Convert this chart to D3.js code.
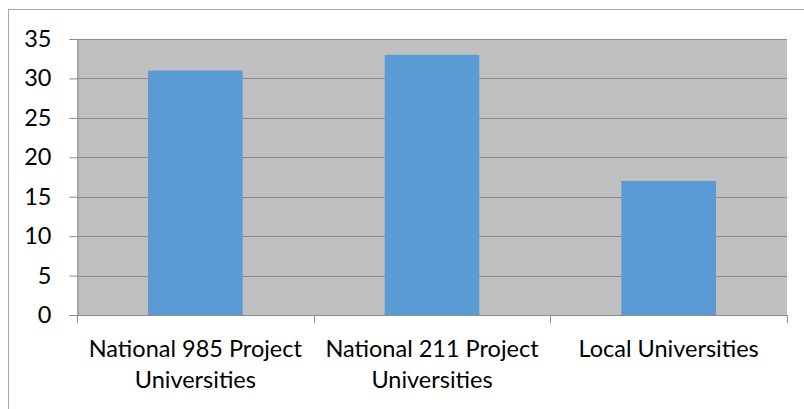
<!DOCTYPE html>
<html><head><meta charset="utf-8">
<script src="https://cdn.jsdelivr.net/npm/d3@7/dist/d3.min.js"></script>
<style>body{margin:0;background:#fff}svg{display:block}</style>
</head><body>
<svg id="c" width="804" height="409"></svg>
<script>
const categories = [["National 985 Project","Universities"],["National 211 Project","Universities"],["Local Universities"]];
const values = [31, 33, 17];
const yTicks = [0,5,10,15,20,25,30,35];

const svg = d3.select("#c");
const font = "Lato, 'Open Sans', sans-serif";
const L = 77, R = 787, T = 39, B = 315;

svg.append("rect").attr("x",8.5).attr("y",9.5).attr("width",820).attr("height",420)
  .attr("fill","#fff").attr("stroke","#a6a6a6").attr("stroke-width",1);

const x = d3.scaleBand().domain(d3.range(values.length)).range([L,R]).paddingInner(0.6).paddingOuter(0.3);
const xb = d3.scaleBand().domain(d3.range(values.length)).range([L,R]);
const y = d3.scaleLinear().domain([0,35]).range([B,T]);

svg.append("rect").attr("x",L).attr("y",T).attr("width",R-L).attr("height",B-T).attr("fill","#c0c0c0");

// gridlines
svg.append("g").selectAll("line").data(yTicks.filter(d=>d>0)).join("line")
  .attr("x1",L).attr("x2",R).attr("y1",d=>Math.round(y(d))+0.5).attr("y2",d=>Math.round(y(d))+0.5)
  .attr("stroke","#8c8c8c").attr("stroke-width",1);

// bars
svg.append("g").selectAll("rect").data(values).join("rect")
  .attr("x",(d,i)=>x(i)).attr("width",x.bandwidth())
  .attr("y",d=>y(d)).attr("height",d=>B-y(d)).attr("fill","#5b9bd5");

// y axis
const yAxis = d3.axisLeft(y).tickValues(yTicks).tickSize(8).tickPadding(18);
const gy = svg.append("g").attr("transform",`translate(${L+0.5},0)`).call(yAxis);
gy.select(".domain").attr("stroke","#8c8c8c");
gy.selectAll(".tick line").attr("stroke","#8c8c8c");
gy.selectAll("text").attr("font-family",font).attr("font-size",23.5).attr("fill","#000");

// x axis
const boundaries = d3.range(values.length+1).map(i => i<values.length ? xb(i) : R);
const gx = svg.append("g");
gx.append("line").attr("x1",L).attr("x2",R).attr("y1",B+0.5).attr("y2",B+0.5).attr("stroke","#8c8c8c");
gx.selectAll("line.t").data(boundaries).join("line").attr("class","t")
  .attr("x1",d=>Math.round(d)+0.5).attr("x2",d=>Math.round(d)+0.5).attr("y1",B).attr("y2",B+8).attr("stroke","#8c8c8c");
const lbl = gx.selectAll("text").data(categories).join("text")
  .attr("text-anchor","middle").attr("font-family",font).attr("font-size",23.5).attr("fill","#000")
  .attr("transform",(d,i)=>`translate(${xb(i)+xb.bandwidth()/2},0)`);
lbl.selectAll("tspan").data(d=>d).join("tspan")
  .attr("x",0).attr("y",(d,j)=>357+j*31).text(d=>d);
</script>
</body></html>
